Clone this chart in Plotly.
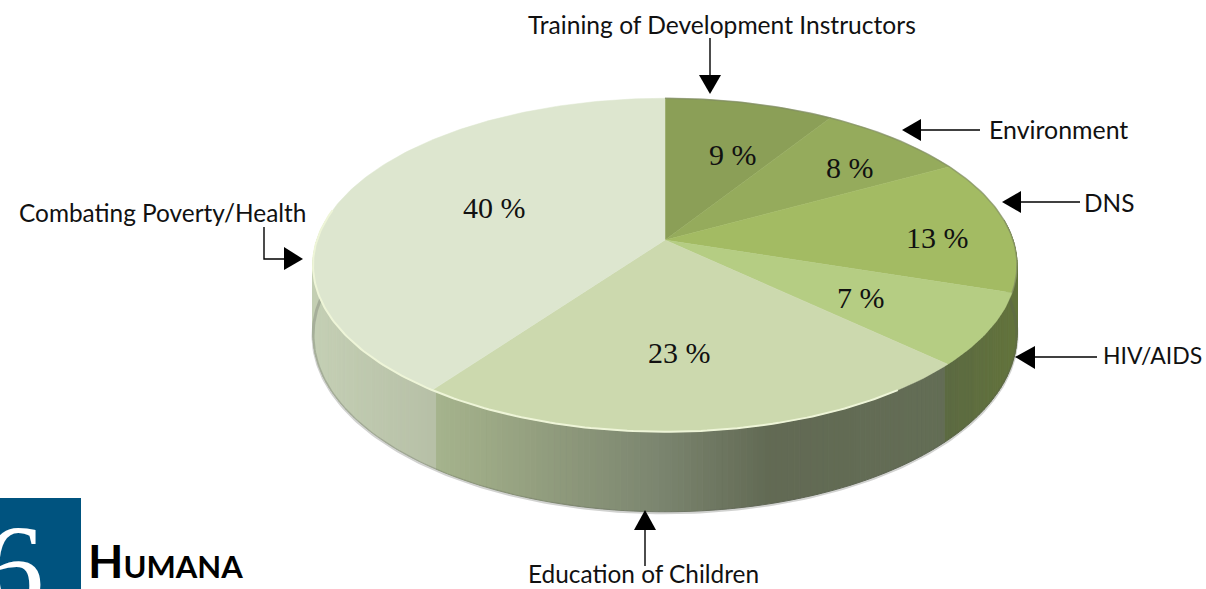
import numpy as np
import plotly.graph_objects as go

# ---- data ----
categories = ["Training of Development Instructors", "Environment", "DNS", "HIV/AIDS",
              "Education of Children", "Combating Poverty/Health"]
shares = [9, 8, 13, 7, 23, 40]
share_labels = ["9 %", "8 %", "13 %", "7 %", "23 %", "40 %"]

# ---- style ----
slice_colors = ["#8b9f57", "#95ab5c", "#a3bb63", "#b5cd83", "#ccd9ae", "#dde6cf"]
wall_x = [300, 436, 437, 452, 560, 657, 770, 945, 946, 1020]
wall_c = ["#c6d1b6", "#b7c0a7", "#a6b48e", "#a3b18b", "#8f9a7c", "#7c8670", "#626a54", "#646e56",
          "#5c6a42", "#64753c"]
CX, CY, RX, RY, K, DEPTH = 665, 240, 348, 163, 0.15, 68


def project(frac):
    t = 2 * np.pi * np.asarray(frac, dtype=float)
    u, v = np.sin(t), np.cos(t)
    w = 1 + K * v
    return CX + RX * u / w, CY - RY * v / w, w


def wall_color(x):
    rgb = [[int(c[i:i + 2], 16) for c in wall_c] for i in (1, 3, 5)]
    return "rgb(%d,%d,%d)" % tuple(np.interp(x, wall_x, ch) for ch in rgb)


fig = go.Figure()

# side wall of the disc
edges = np.linspace(0.23, 0.77, 221)
for a, b in zip(edges[:-1], edges[1:]):
    xa, ya, wa = project(a)
    xb, yb, wb = project(b)
    col = wall_color((xa + xb) / 2)
    fig.add_trace(go.Scatter(
        x=[xa, xb, xb, xa, xa], y=[ya, yb, yb + DEPTH / wb, ya + DEPTH / wa, ya],
        mode="lines", fill="toself", fillcolor=col, line=dict(color=col, width=1),
        hoverinfo="skip", showlegend=False))

# soft lower edge of the wall
fr = np.linspace(0.23, 0.77, 220)
xe, ye, we = project(fr)
fig.add_trace(go.Scatter(x=xe, y=ye + DEPTH / we + 1, mode="lines",
                         line=dict(color="rgba(90,95,85,0.28)", width=3),
                         hoverinfo="skip", showlegend=False))

# top of the disc, one slice per share
cum = np.cumsum([0] + shares) / sum(shares)
for name, lo, hi, col in zip(categories, cum[:-1], cum[1:], slice_colors):
    fr = np.linspace(lo, hi, max(int((hi - lo) * 400), 8))
    xs, ys, _ = project(fr)
    fig.add_trace(go.Scatter(
        x=np.r_[CX, xs, CX], y=np.r_[CY, ys, CY], mode="lines", fill="toself", fillcolor=col,
        line=dict(color=col, width=0.5), name=name, showlegend=False, hoverinfo="name"))

# light rim at the front-left
fr = np.linspace(0.40, 0.78, 160)
xs, ys, _ = project(fr)
fig.add_trace(go.Scatter(x=xs, y=ys, mode="lines", line=dict(color="#eef5d8", width=2),
                         hoverinfo="skip", showlegend=False))
# darker rim at the back-right
fr = np.linspace(0.0, 0.30, 120)
xs, ys, _ = project(fr)
fig.add_trace(go.Scatter(x=xs, y=ys, mode="lines", line=dict(color="rgba(125,135,100,0.6)", width=1.5),
                         hoverinfo="skip", showlegend=False))

shapes = [dict(type="rect", x0=0, x1=81, y0=498, y1=589, fillcolor="#00537f", line_width=0, layer="below")]


def line(pts):
    d = "M" + " L".join(f"{x},{y}" for x, y in pts)
    shapes.append(dict(type="path", path=d, line=dict(color="black", width=1.4)))


def head(a, b, c):
    shapes.append(dict(type="path", path=f"M{a[0]},{a[1]} L{b[0]},{b[1]} L{c[0]},{c[1]} Z",
                       fillcolor="black", line_width=0))


line([(710, 38), (710, 76)]);   head((710, 94), (699, 75), (721, 75))
line([(980, 130), (920, 130)]); head((902, 130), (921, 119), (921, 141))
line([(1080, 202), (1020, 202)]); head((1002, 202), (1021, 191), (1021, 213))
line([(1097, 357), (1034, 357)]); head((1015, 357), (1035, 346), (1035, 369))
line([(645, 566), (645, 529)]); head((645, 510), (634, 530), (656, 530))
line([(264, 227), (264, 259), (285, 259)]); head((303, 259), (284, 247), (284, 270))

annotations = []


def label(text, x, y, anchor="left", size=24.4, family="Lato", color="#111111", yanchor="middle"):
    annotations.append(dict(text=text, x=x, y=y, xref="x", yref="y", xanchor=anchor, yanchor=yanchor,
                            showarrow=False, font=dict(family=family, size=size, color=color),
                            borderpad=0, align="left"))


name_pos = [(527, 24), (988, 129), (1083, 202), (1102, 355), (527, 573), (18, 212)]
name_size = [24.6, 24.9, 24.4, 23.0, 24.4, 24.4]
for name, (x, y), s in zip(categories, name_pos, name_size):
    label(name, x, y, size=s)

share_pos = [(733, 154), (850, 167), (937, 237), (861, 297), (679, 352), (494, 207)]
for txt, (x, y) in zip(share_labels, share_pos):
    label(txt, x, y, anchor="center", size=30, family="Liberation Serif")

label("6", 13, 500, anchor="center", size=122, family="Liberation Serif", color="white", yanchor="top")
label('<b><span style="font-size:46px">H</span><span style="font-size:31px">UMANA</span></b>', 87, 560,
      family="Lato", color="#000000")

fig.update_layout(
    width=1206, height=589, margin=dict(l=0, r=0, t=0, b=0, pad=0), autosize=False,
    paper_bgcolor="white", plot_bgcolor="white", showlegend=False,
    xaxis=dict(range=[0, 1206], visible=False, fixedrange=True),
    yaxis=dict(range=[589, 0], visible=False, fixedrange=True),
    shapes=shapes, annotations=annotations,
)
fig.write_html("out.html", config=dict(displayModeBar=False),
               post_script="document.body.style.margin='0';document.body.style.overflow='hidden';")
